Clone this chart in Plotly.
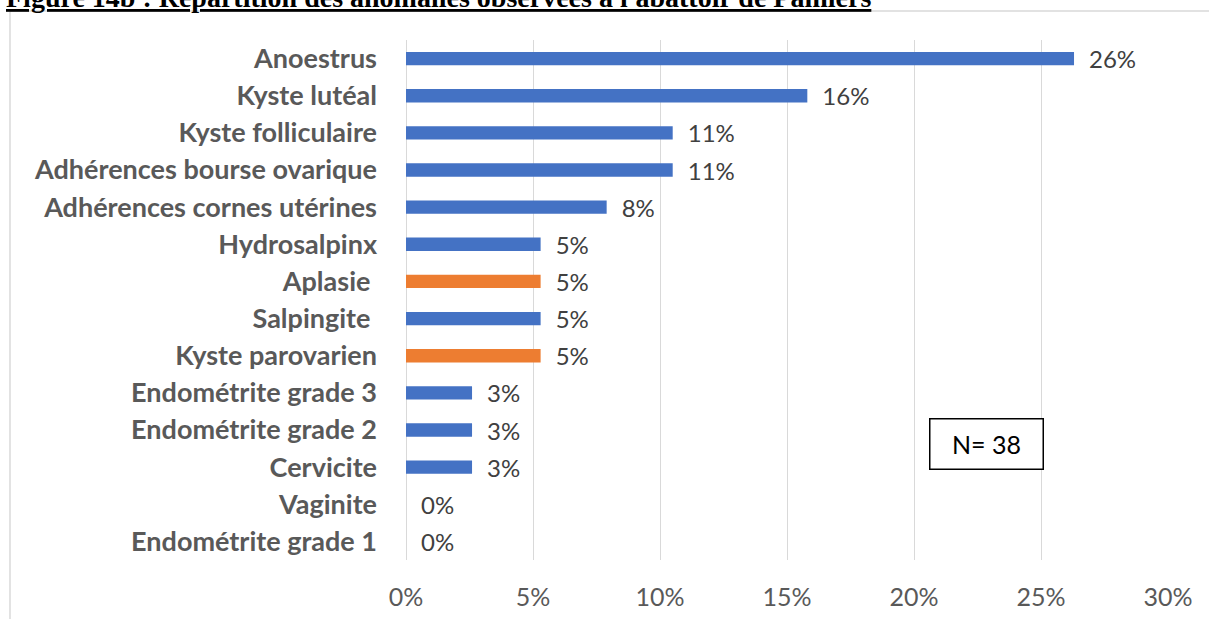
import plotly.graph_objects as go

categories = ["Anoestrus", "Kyste lutéal", "Kyste folliculaire", "Adhérences bourse ovarique",
              "Adhérences cornes utérines", "Hydrosalpinx", "Aplasie ", "Salpingite ",
              "Kyste parovarien", "Endométrite grade 3", "Endométrite grade 2", "Cervicite",
              "Vaginite", "Endométrite grade 1"]
shares = [0.263, 0.158, 0.105, 0.105, 0.079, 0.053, 0.053, 0.053, 0.053, 0.026, 0.026, 0.026, 0.0, 0.0]
highlight = ["Aplasie ", "Kyste parovarien"]
x_ticks = [0, 0.05, 0.10, 0.15, 0.20, 0.25, 0.30]
x_tick_labels = ["0%", "5%", "10%", "15%", "20%", "25%", "30%"]
n_label = "N= 38"
title = "<b><u>Figure 14b : Répartition des anomalies observées à l'abattoir de Pamiers</u></b>"

blue = "#4472C4"
orange = "#ED7D31"
colors = [orange if c in highlight else blue for c in categories]

labels = [c.replace(" ", "\u00a0") for c in categories]

fig = go.Figure()
fig.add_trace(go.Bar(
    y=labels,
    x=shares,
    orientation="h",
    width=0.36,
    marker=dict(color=colors, line=dict(width=0)),
    texttemplate="\u2002%{x:.0%}",
    textposition="outside",
    constraintext="none",
    textfont=dict(family="Lato", size=24, color="#404040"),
    cliponaxis=False,
    hoverinfo="skip",
))

fig.update_layout(
    width=1209, height=619,
    margin=dict(l=406, r=41, t=40, b=59, autoexpand=False),
    paper_bgcolor="white", plot_bgcolor="white",
    showlegend=False,
    font=dict(family="Lato"),
)
fig.update_xaxes(
    range=[0, 0.30],
    tickvals=x_ticks, ticktext=x_tick_labels,
    showgrid=True, gridcolor="#D9D9D9", gridwidth=1,
    zeroline=True, zerolinecolor="#D9D9D9", zerolinewidth=1,
    showline=False, ticks="",
    ticklabelstandoff=20,
    automargin=False,
    tickfont=dict(family="Lato", size=25, color="#595959"),
)
fig.update_yaxes(
    autorange="reversed",
    showgrid=False, showline=False, ticks="",
    ticklabelstandoff=28,
    automargin=False,
    tickfont=dict(family="Lato", size=27, color="#595959", weight="bold"),
)

# chart frame (light grey), running off the picture on the right and at the bottom
fig.add_shape(type="rect", xref="paper", yref="paper",
              x0=-0.5197, x1=1.1, y0=-0.2, y1=1.0559,
              line=dict(color="#D9D9D9", width=1.5), layer="below")

fig.add_annotation(
    xref="paper", yref="paper", x=-0.5276, y=1.081,
    xanchor="left", yanchor="middle",
    text=title, showarrow=False,
    font=dict(family="Liberation Serif", size=28, color="black"),
)

fig.add_annotation(
    xref="paper", yref="paper", x=0.7612, y=0.223,
    xanchor="center", yanchor="middle",
    text=n_label, showarrow=False,
    width=110, height=47,
    bordercolor="black", borderwidth=1.5, borderpad=1,
    bgcolor="white",
    font=dict(family="Lato", size=25, color="black"),
)

fig.write_html("out.html", config={"displayModeBar": False},
               post_script="document.body.style.margin='0px';")
